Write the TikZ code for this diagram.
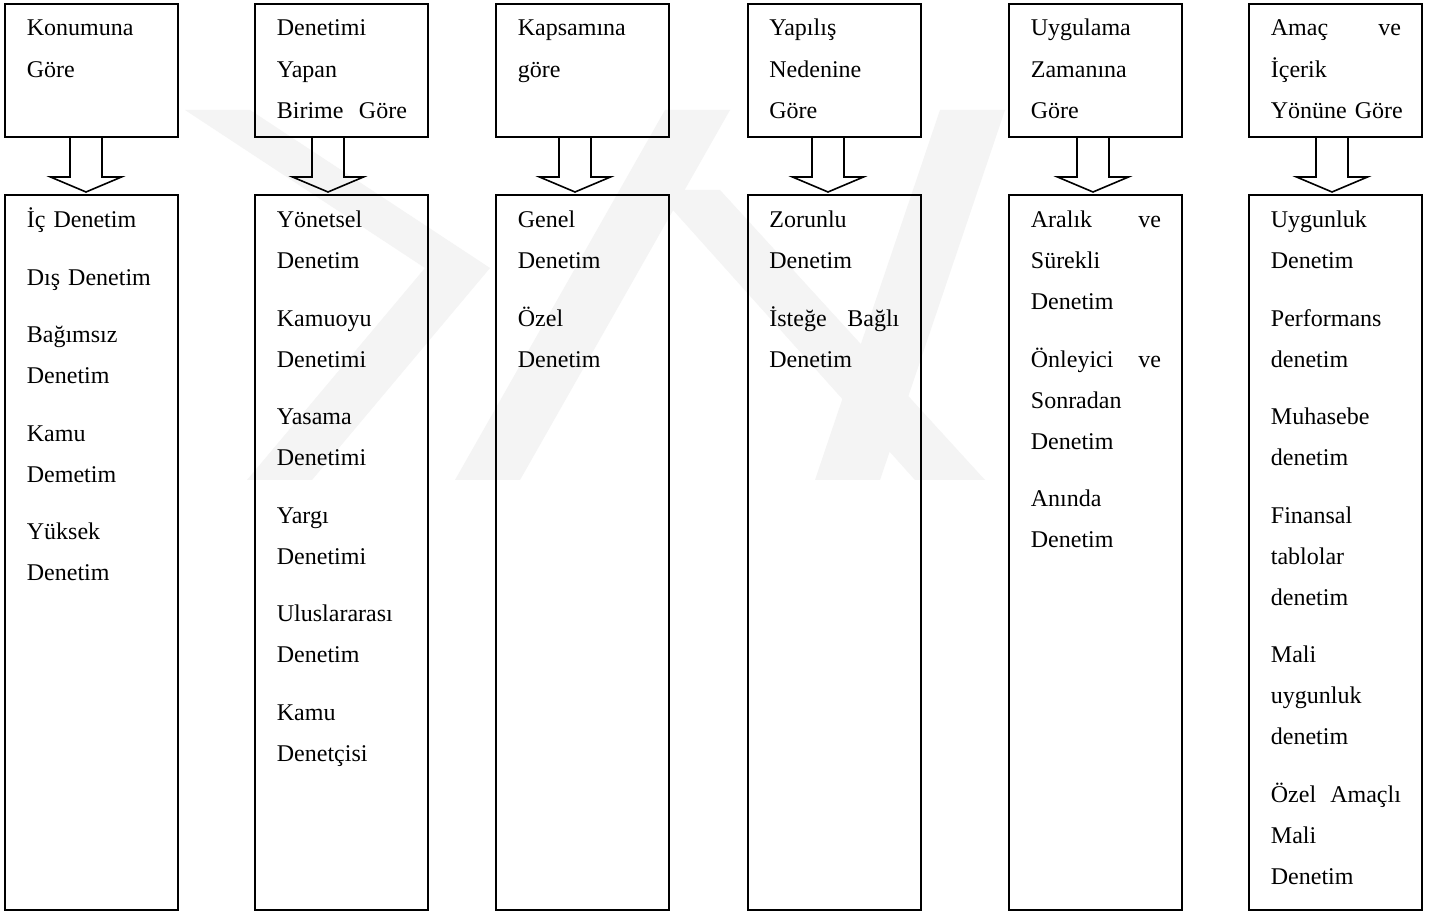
\documentclass[tikz,border=0pt]{standalone}
\usepackage{fontspec}
\setmainfont{Liberation Serif}
\usetikzlibrary{calc}
\newcommand\itemgap{\\[8.25pt]}
\begin{document}
\begin{tikzpicture}[x=0.5pt,y=-0.5pt,
  box/.style={draw, line width=1pt, outer sep=0pt, inner sep=0pt, minimum width=86.5pt},
  topbox/.style={box, minimum height=66.5pt},
  listbox/.style={box, minimum height=357.5pt},
  hdtext/.style={anchor=base west, inner sep=0pt, text width=65pt, align=left, font=\fontsize{12}{20.75}\selectfont},
  ittext/.style={anchor=base west, inner sep=0pt, text width=65pt, align=left, font=\fontsize{12}{20.5}\selectfont},
  fat/.style={line width=0.8pt, line join=miter},
  wmark/.style={fill=black!4.5, draw=none}]
\fill[white] (0,0) rectangle (1435,913);
\useasboundingbox (0,0) rectangle (1435,913);

% faint watermark behind the diagram
\fill[wmark] (185,110) -- (250,110) -- (490,268) -- (312,480) -- (247,480) -- (425,268) -- cycle;
\fill[wmark] (455,480) -- (520,480) -- (730,110) -- (665,110) -- cycle;
\fill[wmark] (940,110) -- (1005,110) -- (880,480) -- (815,480) -- cycle;
\fill[wmark] (655,190) -- (720,190) -- (985,480) -- (915,480) -- cycle;

% top boxes
\node[topbox] (t1) at (91.5,70.5) {};
\node[topbox] (t2) at (341.5,70.5) {};
\node[topbox] (t3) at (582.5,70.5) {};
\node[topbox] (t4) at (834,70.5) {};
\node[topbox] (t5) at (1095.5,70.5) {};
\node[topbox] (t6) at (1335.5,70.5) {};
% list boxes
\node[listbox] (b1) at (91.5,552.5) {};
\node[listbox] (b2) at (341.5,552.5) {};
\node[listbox] (b3) at (582.5,552.5) {};
\node[listbox] (b4) at (834,552.5) {};
\node[listbox] (b5) at (1095.5,552.5) {};
\node[listbox] (b6) at (1335.5,552.5) {};

% header texts
\node[hdtext] (h1) at (26.5,36) {Konumuna\\Göre};
\node[hdtext] (h2) at (276.5,36) {Denetimi\\Yapan\\Birime\hfill Göre};
\node[hdtext] (h3) at (517.5,36) {Kapsamına\\göre};
\node[hdtext] (h4) at (769,36) {Yapılış\\Nedenine\\Göre};
\node[hdtext] (h5) at (1030.5,36) {Uygulama\\Zamanına\\Göre};
\node[hdtext] (h6) at (1270.5,36) {Amaç\hfill ve\\İçerik\\\mbox{Yönüne Göre}};

% list texts
\node[ittext] (l1) at (26.5,228) {İç Denetim\itemgap Dış Denetim\itemgap Bağımsız\\Denetim\itemgap Kamu\\Demetim\itemgap Yüksek\\Denetim};
\node[ittext] (l2) at (276.5,228) {Yönetsel\\Denetim\itemgap Kamuoyu\\Denetimi\itemgap Yasama\\Denetimi\itemgap Yargı\\Denetimi\itemgap Uluslararası\\Denetim\itemgap Kamu\\Denetçisi};
\node[ittext] (l3) at (517.5,228) {Genel\\Denetim\itemgap Özel\\Denetim};
\node[ittext] (l4) at (769,228) {Zorunlu\\Denetim\itemgap İsteğe\hfill Bağlı\\Denetim};
\node[ittext] (l5) at (1030.5,228) {Aralık\hfill ve\\Sürekli\\Denetim\itemgap Önleyici\hfill ve\\Sonradan\\Denetim\itemgap Anında\\Denetim};
\node[ittext] (l6) at (1270.5,228) {Uygunluk\\Denetim\itemgap Performans\\denetim\itemgap Muhasebe\\denetim\itemgap Finansal\\tablolar\\denetim\itemgap Mali\\uygunluk\\denetim\itemgap Özel\hfill Amaçlı\\Mali\\Denetim};

% block arrows
\foreach \t/\b/\x in {t1/b1/86, t2/b2/328, t3/b3/575, t4/b4/828, t5/b5/1093, t6/b6/1332}{
  \coordinate (tip-\t) at (\x,0);
  \draw[fat] (\t.south -| tip-\t) ++(-16,0) -- ++(0,40) -- ++(-19.5,0)
    -- ($(\b.north -| tip-\t)+(0,-3)$) -- ++(35.5,-15) -- ++(-19.5,0) -- ++(0,-40);
}
\end{tikzpicture}
\end{document}
